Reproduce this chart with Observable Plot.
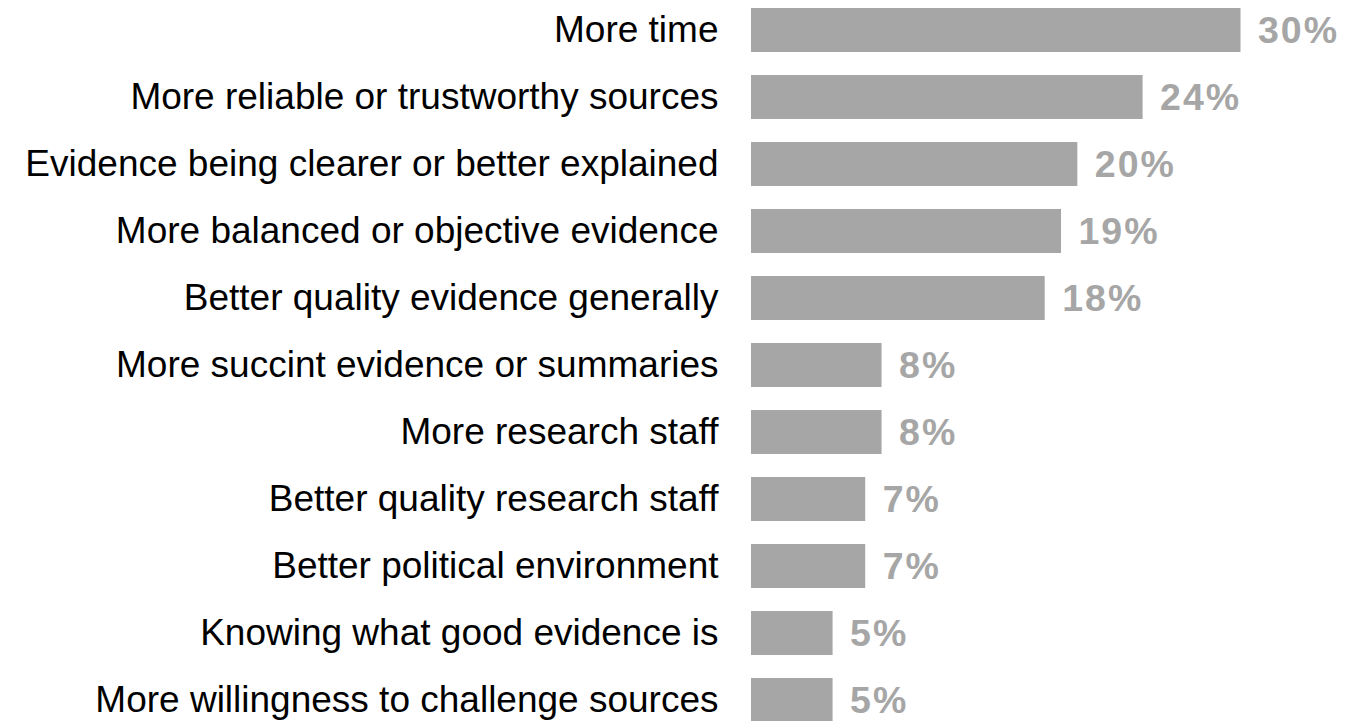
<!DOCTYPE html>
<html>
<head>
<meta charset="utf-8">
<script src="https://cdn.jsdelivr.net/npm/d3@7"></script>
<script src="https://cdn.jsdelivr.net/npm/@observablehq/plot@0.6"></script>
<style>
  html, body { margin: 0; padding: 0; background: #fff; overflow: hidden; }
  #chart svg { display: block; }
  #chart svg g[font-weight="bold"] text { letter-spacing: 2px; }
</style>
</head>
<body>
<div id="chart"></div>
<script>
const categories = [
  "More time",
  "More reliable or trustworthy sources",
  "Evidence being clearer or better explained",
  "More balanced or objective evidence",
  "Better quality evidence generally",
  "More succint evidence or summaries",
  "More research staff",
  "Better quality research staff",
  "Better political environment",
  "Knowing what good evidence is",
  "More willingness to challenge sources"
];
const values = [30, 24, 20, 19, 18, 8, 8, 7, 7, 5, 5];

const data = categories.map((c, i) => ({category: c, value: values[i]}));

const font = "'Liberation Sans', Arial, Helvetica, sans-serif";

const chart = Plot.plot({
  width: 1348,
  height: 721,
  marginTop: 0,
  marginBottom: 0,
  marginLeft: 0,
  marginRight: 0,
  style: {fontFamily: font, background: "#fff"},
  x: {domain: [0, 30], range: [751, 1240.5], axis: null},
  y: {domain: categories, range: [-4.6, 735.1], paddingInner: 0.338, paddingOuter: 0.169, axis: null},
  marks: [
    Plot.barX(data, {x: "value", y: "category", fill: "#a6a6a6"}),
    Plot.text(data, {
      x: 0, y: "category", text: "category",
      textAnchor: "end", dx: -33, fontSize: 37, fill: "#000"
    }),
    Plot.text(data, {
      x: "value", y: "category", text: d => d.value + "%",
      textAnchor: "start", dx: 17, fontSize: 37.5, fontWeight: "bold", fill: "#a6a6a6"
    })
  ]
});
document.getElementById("chart").appendChild(chart);
</script>
</body>
</html>
